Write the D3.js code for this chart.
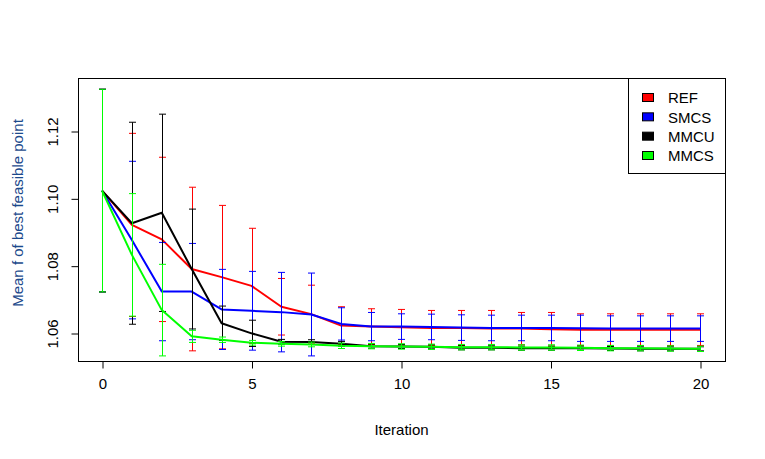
<!DOCTYPE html>
<html><head><meta charset="utf-8">
<script src="https://cdn.jsdelivr.net/npm/d3@7"></script>
<style>body{margin:0;background:#fff}svg{display:block}text{font-family:Arial,"Liberation Sans",sans-serif}</style>
</head><body>
<svg id="c" width="765" height="459"></svg>
<script>
const iterations = d3.range(0, 21);
const seriesNames = ["REF", "SMCS", "MMCU", "MMCS"];
const seriesColors = ["#ff0000", "#0000ff", "#000000", "#00ff00"];
const refMean = [1.1023,1.0921,1.0878,1.0790,1.0766,1.0740,1.0678,1.0656,1.0622,1.0619,1.0617,1.0615,1.0615,1.0613,1.0613,1.0611,1.0610,1.0610,1.0610,1.0610,1.0610];
const refSd   = [0.0301,0.0272,0.0244,0.0243,0.0213,0.0171,0.0084,0.0086,0.0056,0.0053,0.0053,0.0052,0.0052,0.0054,0.0048,0.0050,0.0047,0.0047,0.0047,0.0047,0.0047];
const smcsMean = [1.1023,1.0876,1.0723,1.0723,1.0670,1.0666,1.0662,1.0655,1.0627,1.0619,1.0619,1.0618,1.0616,1.0615,1.0615,1.0615,1.0614,1.0613,1.0613,1.0613,1.0613];
const smcsSd   = [0.0301,0.0234,0.0146,0.0143,0.0119,0.0117,0.0118,0.0123,0.0048,0.0042,0.0038,0.0038,0.0038,0.0038,0.0038,0.0038,0.0039,0.0038,0.0038,0.0038,0.0038];
const mmcuMean = [1.1023,1.0926,1.0957,1.0790,1.0629,1.0599,1.0574,1.0573,1.0568,1.0561,1.0560,1.0559,1.0556,1.0556,1.0555,1.0555,1.0555,1.0554,1.0553,1.0553,1.0553];
const mmcuSd   = [0.0301,0.0300,0.0293,0.0178,0.0051,0.0039,0.0007,0.0007,0.0007,0.0006,0.0006,0.0006,0.0006,0.0006,0.0006,0.0006,0.0006,0.0006,0.0006,0.0006,0.0006];
const mmcsMean = [1.1023,1.0832,1.0668,1.0590,1.0580,1.0571,1.0568,1.0566,1.0562,1.0561,1.0560,1.0559,1.0558,1.0558,1.0557,1.0557,1.0556,1.0555,1.0555,1.0554,1.0553];
const mmcsSd   = [0.0301,0.0182,0.0136,0.0018,0.0008,0.0007,0.0007,0.0007,0.0008,0.0008,0.0008,0.0008,0.0008,0.0008,0.0008,0.0008,0.0008,0.0008,0.0008,0.0008,0.0008];
const xTicks = [0, 5, 10, 15, 20];
const yTicks = [1.06, 1.08, 1.10, 1.12];
const xLabel = "Iteration";
const yLabel = "Mean f of best feasible point";

const means = [refMean, smcsMean, mmcuMean, mmcsMean];
const sds = [refSd, smcsSd, mmcuSd, mmcsSd];

const svg = d3.select("#c");
const box = {l: 78, r: 725, t: 78, b: 361};
const x = d3.scaleLinear().domain([0, 20]).range([102, 700]);
const y = d3.scaleLinear().domain([1.06, 1.12]).range([333, 131]);

svg.append("defs").append("clipPath").attr("id", "clip")
  .append("rect").attr("x", box.l).attr("y", box.t).attr("width", box.r - box.l).attr("height", box.b - box.t);

const plot = svg.append("g").attr("clip-path", "url(#clip)");
const line = d3.line().x((d, i) => x(iterations[i])).y(d => y(d));

means.forEach((m, s) => {
  const col = seriesColors[s];
  plot.append("path").attr("d", line(m)).attr("fill", "none")
    .attr("stroke", col).attr("stroke-width", 2).attr("stroke-linejoin", "round");
  const g = plot.append("g").attr("stroke", col).attr("stroke-width", 1).attr("fill", "none");
  m.forEach((v, i) => {
    const xi = Math.round(x(iterations[i])) + 0.5;
    const lo = y(v - sds[s][i]), hi = y(v + sds[s][i]);
    g.append("line").attr("x1", xi).attr("x2", xi).attr("y1", lo).attr("y2", hi);
    g.append("line").attr("x1", xi - 3.5).attr("x2", xi + 3.5).attr("y1", lo).attr("y2", lo);
    g.append("line").attr("x1", xi - 3.5).attr("x2", xi + 3.5).attr("y1", hi).attr("y2", hi);
  });
});

// box
svg.append("rect").attr("x", box.l + 0.5).attr("y", box.t + 0.5)
  .attr("width", box.r - box.l).attr("height", box.b - box.t)
  .attr("fill", "none").attr("stroke", "#000").attr("stroke-width", 1);

// x axis
const xAxis = d3.axisBottom(x).tickValues(xTicks).tickSize(7).tickPadding(10).tickFormat(d3.format("d"));
const gx = svg.append("g").attr("transform", `translate(0.5,${box.b + 0.5})`).call(xAxis);
gx.select(".domain").attr("d", `M${x(0)},0H${x(20)}`);
gx.selectAll("text").attr("font-size", 15).attr("font-family", "Arial, 'Liberation Sans', sans-serif").attr("fill", "#000");
gx.selectAll("line").attr("stroke", "#000");

// y axis
const yAxis = d3.axisLeft(y).tickValues(yTicks).tickSize(7).tickFormat(d3.format(".2f"));
const gy = svg.append("g").attr("transform", `translate(${box.l + 0.5},0.5)`).call(yAxis);
gy.select(".domain").attr("d", `M0,${y(1.06)}V${y(1.12)}`);
gy.selectAll("line").attr("stroke", "#000");
gy.selectAll("text")
  .attr("x", null).attr("dy", null)
  .attr("text-anchor", "middle")
  .attr("font-size", 15).attr("font-family", "Arial, 'Liberation Sans', sans-serif").attr("fill", "#000")
  .attr("transform", "translate(-21,0) rotate(-90)");

// axis titles
svg.append("text").attr("x", (box.l + box.r) / 2).attr("y", 435)
  .attr("text-anchor", "middle").attr("font-size", 15).attr("fill", "#000").text(xLabel);
svg.append("text").attr("transform", `translate(23,213) rotate(-90)`)
  .attr("text-anchor", "middle").attr("font-size", 15).attr("fill", "#1c4a8c").text(yLabel);

// legend
const leg = svg.append("g");
leg.append("rect").attr("x", 628.5).attr("y", box.t + 0.5).attr("width", box.r - 628).attr("height", 173 - box.t)
  .attr("fill", "#fff").attr("stroke", "#000");
const rowY = d3.scalePoint().domain(seriesNames).range([98, 156]);
seriesNames.forEach((n, i) => {
  leg.append("rect").attr("x", 642.5).attr("y", rowY(n) - 4.5).attr("width", 11).attr("height", 8)
    .attr("fill", seriesColors[i]).attr("stroke", "#000");
  leg.append("text").attr("x", 668).attr("y", rowY(n)).attr("dy", "0.36em")
    .attr("font-size", 15).attr("fill", "#000").text(n);
});
</script>
</body></html>
